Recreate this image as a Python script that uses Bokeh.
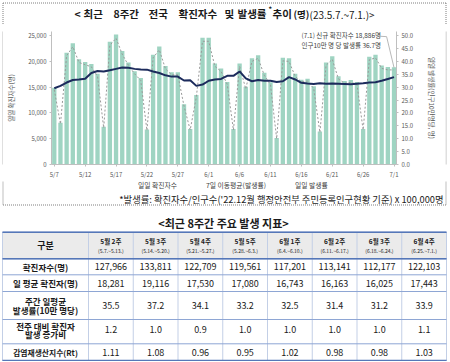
from bokeh.plotting import figure
from bokeh.models import (Range1d, LinearAxis, FixedTicker, NumeralTickFormatter,
                          Label, Legend, LegendItem)
from bokeh.layouts import column, row
from bokeh.embed import file_html
from bokeh.resources import INLINE
from bokeh.core.properties import value

FONT = "Noto Sans CJK KR"

# ---------------- data ----------------
dates = ["5/7", "5/8", "5/9", "5/10", "5/11", "5/12", "5/13",
         "5/14", "5/15", "5/16", "5/17", "5/18", "5/19", "5/20",
         "5/21", "5/22", "5/23", "5/24", "5/25", "5/26", "5/27",
         "5/28", "5/29", "5/30", "5/31", "6/1", "6/2", "6/3",
         "6/4", "6/5", "6/6", "6/7", "6/8", "6/9", "6/10",
         "6/11", "6/12", "6/13", "6/14", "6/15", "6/16", "6/17",
         "6/18", "6/19", "6/20", "6/21", "6/22", "6/23", "6/24",
         "6/25", "6/26", "6/27", "6/28", "6/29", "6/30", "7/1"]

daily_cases = [14900, 8100, 21700, 23500, 20400, 19900, 19500,
               17600, 7300, 23800, 25200, 22000, 19800, 18100,
               16800, 6800, 21300, 22900, 19100, 17900, 17900,
               11700, 6900, 13500, 24600, 24600, 19600, 18600,
               16000, 6900, 19600, 15100, 20600, 21200, 17800,
               15950, 5140, 20700, 20600, 17600, 16450, 16650,
               15200, 6400, 19800, 21000, 17100, 16200, 16400,
               16000, 6900, 20900, 21300, 19200, 18900, 18886]

daily_rate = [29.0, 15.7, 42.2, 45.7, 39.6, 38.7, 37.9,
              34.2, 14.2, 46.2, 49.0, 42.8, 38.5, 35.2,
              32.6, 13.2, 41.4, 44.5, 37.1, 34.8, 34.8,
              22.7, 13.4, 26.2, 47.8, 47.8, 38.1, 36.1,
              31.1, 13.4, 38.1, 29.3, 40.0, 41.2, 34.6,
              31.0, 10.0, 40.2, 40.0, 34.2, 32.0, 32.4,
              29.5, 12.4, 38.5, 40.8, 33.2, 31.5, 31.9,
              31.1, 13.4, 40.6, 41.4, 37.3, 36.7, 36.7]

ma7_rate = [29.6, 30.5, 31.8, 32.8, 33.0, 33.3, 35.5,
            36.3, 36.1, 36.6, 37.1, 37.6, 37.5, 37.1,
            36.9, 36.8, 36.1, 35.5, 34.6, 34.1, 34.1,
            32.6, 32.7, 30.5, 31.0, 32.5, 33.0, 33.2,
            34.4, 34.4, 36.1, 33.4, 32.3, 32.8, 32.5,
            32.5, 32.0, 32.3, 33.9, 33.0, 31.7, 31.4,
            31.2, 31.5, 31.3, 31.4, 31.3, 31.2, 31.1,
            31.3, 31.5, 31.8, 31.9, 32.5, 33.2, 33.9]

xtick_labels = ["5/7", "5/12", "5/17", "5/22", "5/27", "6/1",
                "6/6", "6/11", "6/16", "6/21", "6/26", "7/1"]
left_ticks = [0, 5000, 10000, 15000, 20000, 25000]
right_ticks = [0, 5, 10, 15, 20, 25, 30, 35, 40, 45, 50]

week_labels = ["5월 2주", "5월 3주", "5월 4주", "5월 5주",
               "6월 1주", "6월 2주", "6월 3주", "6월 4주"]
week_ranges = ["(5.7.~5.13.)", "(5.14.~5.20.)", "(5.21.~5.27.)", "(5.28.~6.3.)",
               "(6.4.~6.10.)", "(6.11.~6.17.)", "(6.18.~6.24.)", "(6.25.~7.1.)"]
weekly_cases = [127966, 133811, 122709, 119561, 117201, 113141, 112177, 122103]
weekly_daily_avg = [18281, 19116, 17530, 17080, 16743, 16163, 16025, 17443]
weekly_rate = [35.5, 37.2, 34.1, 33.2, 32.5, 31.4, 31.2, 33.9]
growth_ratio = [1.2, 1.0, 0.9, 1.0, 1.0, 1.0, 1.0, 1.1]
rt_values = [1.11, 1.08, 0.96, 0.95, 1.02, 0.98, 0.98, 1.03]

BAR = "#9fd4c2"
NAVY = "#1c2b5c"
DASH = "#9a9a9a"
TXT = "#1a1a1a"
BOX = "#7f7f7f"

W = 448
SIDE = 3
HA, HB, HC, HT = 24, 157, 26, 154
BOX_L, BOX_R = 2.5, W - 2.5


def blank(w, h):
    f = figure(width=w, height=h, x_range=Range1d(0, w), y_range=Range1d(h, 0),
               output_backend="svg", toolbar_location=None, min_border=0,
               x_axis_location=None, y_axis_location=None)
    f.grid.visible = False
    f.outline_line_color = None
    return f


def put_text(f, xs, ys, texts, size, bold=False, align="center", color=TXT):
    f.text(x=xs, y=ys, text=texts, text_font=value(FONT), text_font_size=f"{size}px",
           text_font_style="bold" if bold else "normal", text_align=align,
           text_baseline="middle", text_color=color)


def dotted(f, xs0, ys0, xs1, ys1):
    f.segment(x0=xs0, y0=ys0, x1=xs1, y1=ys1, line_color=BOX, line_width=1, line_dash="1 1")


# ---------------- title strip ----------------
a = blank(W, HA)
dotted(a, [BOX_L, BOX_L, BOX_R], [2.5, 2.5, 2.5], [BOX_R, BOX_L, BOX_R], [2.5, HA, HA])
title_words = ["<", "최근", "8주간", "전국", "확진자수", "및", "발생률", "추이"]
title_x = [74, 83, 113, 148, 178, 224, 237, 272]
put_text(a, title_x, [13] * len(title_words), title_words, 10.5, bold=True, align="left")
put_text(a, [268], [8.5], ["*"], 7, bold=True, align="left")
put_text(a, [293], [13.3], ["(명)"], 9.5, bold=True, align="left")
put_text(a, [309], [13.6], ["(23.5.7.~7.1.)>"], 10, align="left")

# ---------------- chart ----------------
PW = W - 2 * SIDE
FL, FR, FT, FB = 45, 49, 7, 16
idx = list(range(len(dates)))
p = figure(width=PW, height=HB, x_range=Range1d(-0.45, len(dates) - 0.6),
           y_range=Range1d(0, 25800), output_backend="svg", toolbar_location=None,
           min_border_left=FL, min_border_right=FR, min_border_top=FT,
           min_border_bottom=FB)
p.extra_y_ranges = {"rate": Range1d(0, 51.6)}
p.grid.visible = False
p.outline_line_color = None

bars = p.vbar(x=idx, top=daily_cases, width=0.7, fill_color=BAR, line_color=None)
p.line(idx, daily_rate, y_range_name="rate", line_color=DASH, line_width=1, line_dash="2 2")
p.line(idx, ma7_rate, y_range_name="rate", line_color=NAVY, line_width=2)

# leader line of the 7/1 note
last = idx[-1]
p.line([last - 2.6, last - 1.2, last], [49.8, 49.6, daily_rate[-1] + 0.9],
       y_range_name="rate", line_color="#a6a6a6", line_width=0.8)

right = LinearAxis(y_range_name="rate", ticker=FixedTicker(ticks=right_ticks),
                   formatter=NumeralTickFormatter(format="0.0"),
                   axis_label="일일 발생률(인구10만명당, 명)")
p.add_layout(right, "right")

p.yaxis[0].ticker = FixedTicker(ticks=left_ticks)
p.yaxis[0].formatter = NumeralTickFormatter(format="0,0")
p.yaxis[0].axis_label = "일일 확진자수(명)"
p.xaxis.ticker = FixedTicker(ticks=[dates.index(d) for d in xtick_labels])
p.xaxis.major_label_overrides = {dates.index(d): d for d in xtick_labels}

for ax in p.xaxis + p.yaxis:
    ax.major_label_text_font = FONT
    ax.major_label_text_font_size = "6px"
    ax.major_label_text_color = "#595959"
    ax.axis_line_color = "#bfbfbf"
    ax.major_tick_line_color = "#bfbfbf"
    ax.minor_tick_line_color = None
    ax.major_tick_in = 0
    ax.major_tick_out = 2
    ax.axis_label_text_font = FONT
    ax.axis_label_text_font_size = "6.5px"
    ax.axis_label_text_font_style = "normal"
    ax.axis_label_text_color = "#595959"
    ax.major_label_standoff = 3
p.yaxis[0].axis_label_standoff = 9
right.axis_label_standoff = 11

FRAME_LEFT_PAGE = SIDE + FL
FRAME_BOTTOM_PAGE = 165
for txt, page_y in [("(7.1) 신규 확진자수 18,886명", 35.0), ("인구10만 명 당 발생률 36.7명", 45.0)]:
    p.add_layout(Label(x=298 - FRAME_LEFT_PAGE, y=FRAME_BOTTOM_PAGE - page_y, x_units="screen",
                       y_units="screen", text=txt, text_font=FONT, text_font_size="6.5px",
                       text_align="left", text_baseline="middle", text_color="#404040"))

left_strip = blank(SIDE, HB)
dotted(left_strip, [BOX_L], [0], [BOX_L], [HB])
right_strip = blank(SIDE, HB)
dotted(right_strip, [0.5], [0], [0.5], [HB])
chart_row = row(left_strip, p, right_strip, spacing=0)

# ---------------- legend + footnote strip ----------------
c = blank(W, HC)
dotted(c, [BOX_L, BOX_R, BOX_L], [0, 0, 23.5], [BOX_L, BOX_R, BOX_R], [23.5, 23.5, 23.5])
r_bar = c.vbar(x=[], top=[], width=0.7, fill_color=BAR, line_color=None)
r_ma = c.line(x=[], y=[], line_color=NAVY, line_width=2)
r_dash = c.line(x=[], y=[], line_color=DASH, line_width=1, line_dash="2 2")
legend = Legend(items=[LegendItem(label="일일 확진자수", renderers=[r_bar]),
                       LegendItem(label="7일 이동평균(발생률)", renderers=[r_ma]),
                       LegendItem(label="일일 발생률", renderers=[r_dash])],
                location=(122, HC - 8.5), orientation="horizontal",
                padding=0, margin=0, spacing=13, glyph_width=14, glyph_height=5,
                label_standoff=2, label_height=8, label_text_font=FONT,
                label_text_font_size="6.8px", label_text_color="#404040",
                background_fill_alpha=0, border_line_color=None)
c.add_layout(legend)
put_text(c, [443], [17.5],
         ["*발생률: 확진자수/인구수('22.12월 행정안전부 주민등록인구현황 기준) x 100,000명"],
         9.3, align="right")

# ---------------- table ----------------
t = blank(W, HT)
rows_y = [24.7, 51.3, 67.3, 84, 112, 136.3, 153]
cols_x = [2, 88] + [88 + 44.75 * (k + 1) for k in range(len(week_labels))]
cols_x[-1] = min(cols_x[-1], W - 1)

t.quad(left=cols_x[0], right=cols_x[-1], top=rows_y[0], bottom=rows_y[1],
       fill_color="#ebebeb", line_color=None)
t.segment(x0=cols_x, x1=cols_x, y0=[rows_y[0]] * len(cols_x), y1=[rows_y[-1]] * len(cols_x),
          line_color="#c3cfe6", line_width=1)
t.segment(x0=[cols_x[0]] * len(rows_y), x1=[cols_x[-1]] * len(rows_y), y0=rows_y, y1=rows_y,
          line_color="#8ea6d4", line_width=1)
t.segment(x0=[cols_x[0]] * 3, x1=[cols_x[-1]] * 3, y0=[rows_y[0], rows_y[1], rows_y[-1]],
          y1=[rows_y[0], rows_y[1], rows_y[-1]], line_color="#5577b8", line_width=1.5)

put_text(t, [223], [15.5], ["<최근 8주간 주요 발생 지표>"], 11, bold=True)

centers = [(cols_x[i + 1] + cols_x[i + 2]) / 2 for i in range(len(week_labels))]
c0 = (cols_x[0] + cols_x[1]) / 2
put_text(t, [c0], [37.5], ["구분"], 9, bold=True)
put_text(t, centers, [33.5] * 8, week_labels, 6.5, bold=True)
put_text(t, centers, [43] * 8, week_ranges, 5)

put_text(t, [c0], [59.3], ["확진자수(명)"], 8.5, bold=True)
put_text(t, [c0], [75.6], ["일 평균 확진자(명)"], 8.5, bold=True)
put_text(t, [c0, c0], [93.5, 102], ["주간 일평균", "발생률(10만 명당)"], 8.5, bold=True)
put_text(t, [c0, c0], [118.5, 126.5], ["전주 대비 확진자", "발생 증가비"], 8.5, bold=True)
put_text(t, [c0], [144.8], ["감염재생산지수(Rt)"], 7.8, bold=True)

put_text(t, centers, [59.3] * 8, [f"{v:,}" for v in weekly_cases], 9)
put_text(t, centers, [75.6] * 8, [f"{v:,}" for v in weekly_daily_avg], 9)
put_text(t, centers, [97.5] * 8, [f"{v:.1f}" for v in weekly_rate], 9)
put_text(t, centers, [121.5] * 8, [f"{v:.1f}" for v in growth_ratio], 9)
put_text(t, centers, [144.8] * 8, [f"{v:.2f}" for v in rt_values], 9)

layout = column(a, chart_row, c, t, spacing=0)
open("out.html", "w").write(file_html(layout, INLINE))
